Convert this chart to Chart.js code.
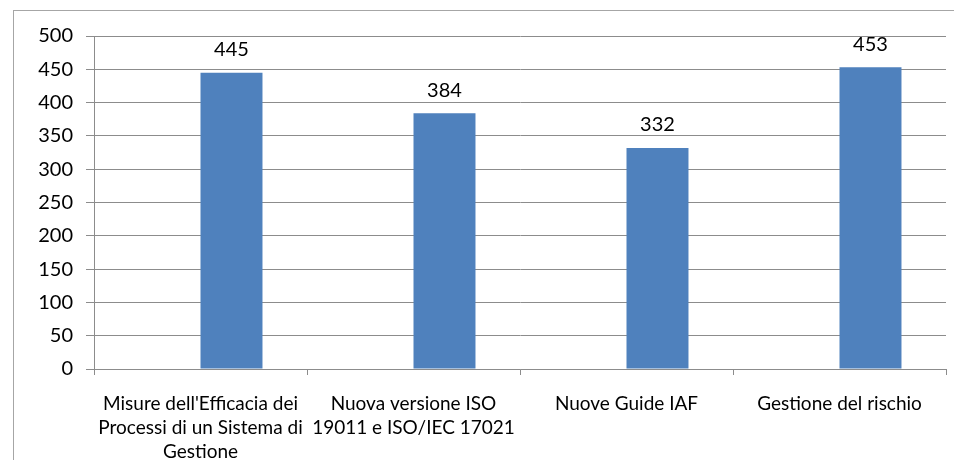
<!DOCTYPE html>
<html>
<head>
<meta charset="utf-8">
<script src="https://cdn.jsdelivr.net/npm/chart.js@4.4.1/dist/chart.umd.min.js"></script>
<style>
  html, body { margin: 0; padding: 0; background: #fff; overflow: hidden; }
  #frame { position: absolute; left: 13px; top: 10px; width: 1000px; height: 500px; border: 1px solid #a6a6a6; }
  #wrap { position: absolute; left: 0; top: 0; width: 954px; height: 460px; }
</style>
</head>
<body>
<div id="frame"></div>
<div id="wrap"><canvas id="chart" width="954" height="460"></canvas></div>
<script>
// categories and values
const categories = [
    ["Misure dell'Efficacia dei", "Processi di un Sistema di", "Gestione"],
    ["Nuova versione ISO", "19011 e ISO/IEC 17021"],
    ["Nuove Guide IAF"],
    ["Gestione del rischio"]
];
const values = [445, 384, 332, 453];
const emptySeries = [null, null, null, null];
const yTicks = [0, 50, 100, 150, 200, 250, 300, 350, 400, 450, 500];

const fontFamily = "Lato, 'Liberation Sans', sans-serif";

// labels above the bars
const barLabels = {
    id: 'barLabels',
    afterDatasetsDraw(chart) {
        const ctx = chart.ctx;
        const meta = chart.getDatasetMeta(1);
        ctx.save();
        ctx.font = '20px ' + fontFamily;
        ctx.fillStyle = '#000';
        ctx.textAlign = 'center';
        ctx.textBaseline = 'middle';
        meta.data.forEach((bar, i) => {
            ctx.fillText(String(values[i]), bar.x, bar.y - 23);
        });
        ctx.restore();
    }
};

new Chart(document.getElementById('chart'), {
    type: 'bar',
    data: {
        labels: categories,
        datasets: [{
            label: 'blank',
            data: emptySeries,
            backgroundColor: '#4F81BD'
        }, {
            label: 'Valori',
            data: values,
            backgroundColor: '#4F81BD'
        }]
    },
    options: {
        responsive: false,
        animation: false,
        events: [],
        categoryPercentage: 0.582,
        barPercentage: 1.0,
        layout: { padding: { top: 36, right: 8, left: 0, bottom: 0 } },
        plugins: {
            legend: { display: false },
            tooltip: { enabled: false },
            title: { display: false }
        },
        scales: {
            y: {
                min: 0,
                max: 500,
                afterBuildTicks(scale) {
                    scale.ticks = yTicks.map(v => ({ value: v }));
                },
                afterFit(scale) { scale.width = 94; },
                grid: { color: '#8c8c8c', tickLength: 8, drawTicks: true },
                border: { color: '#8c8c8c', width: 1 },
                ticks: {
                    color: '#000',
                    padding: 13,
                    font: { family: fontFamily, size: 20 }
                }
            },
            x: {
                afterFit(scale) { scale.height = 91; },
                grid: { drawOnChartArea: false, drawTicks: true, tickLength: 6, color: '#8c8c8c' },
                border: { color: '#8c8c8c', width: 1 },
                ticks: {
                    color: '#000',
                    padding: 17,
                    maxRotation: 0,
                    autoSkip: false,
                    font: { family: fontFamily, size: 19, lineHeight: 1.25 }
                }
            }
        }
    },
    plugins: [barLabels]
});
</script>
</body>
</html>
